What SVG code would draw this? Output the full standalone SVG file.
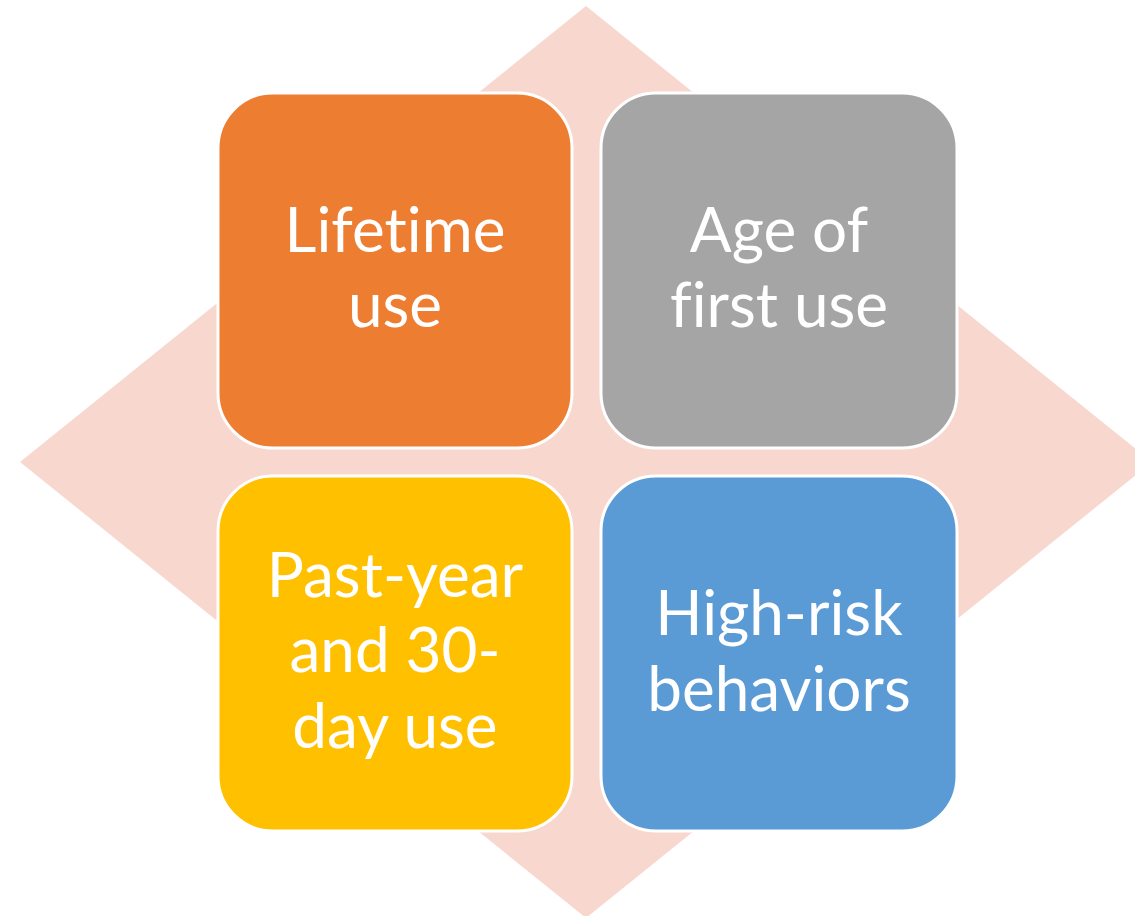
<svg xmlns="http://www.w3.org/2000/svg" width="1135" height="916" viewBox="0 0 1135 916">
<style>
.box{stroke:#ffffff;stroke-width:3}
.lbl{font-family:Lato,"Open Sans","Liberation Sans",sans-serif;font-size:62px;fill:#ffffff;text-anchor:middle;font-variant-ligatures:none;font-feature-settings:"liga" 0,"dlig" 0}
</style>
<rect x="0" y="0" width="1135" height="916" fill="#ffffff"/>
<polygon id="diamond" points="586,6 1152,462 586,918 20,462" fill="#F8D8CE"/>
<g id="connectors"></g>
<g id="lifetime">
<rect class="box" x="218" y="93" width="354" height="355" rx="55" fill="#ED7D31"/>
<text class="lbl" x="395" y="252">Lifetime</text>
<text class="lbl" x="395" y="327">use</text>
</g>
<g id="age">
<rect class="box" x="601" y="93" width="356" height="355" rx="55" fill="#A5A5A5"/>
<text class="lbl" x="779" y="252">Age of</text>
<text class="lbl" x="779" y="327">first use</text>
</g>
<g id="pastyear">
<rect class="box" x="218" y="476" width="354" height="355" rx="55" fill="#FFC000"/>
<text class="lbl" x="395" y="597">Past-year</text>
<text class="lbl" x="395" y="672">and 30-</text>
<text class="lbl" x="395" y="748">day use</text>
</g>
<g id="highrisk">
<rect class="box" x="601" y="476" width="356" height="355" rx="55" fill="#5B9BD5"/>
<text class="lbl" x="779" y="635">High-risk</text>
<text class="lbl" x="779" y="711">behaviors</text>
</g>
</svg>
